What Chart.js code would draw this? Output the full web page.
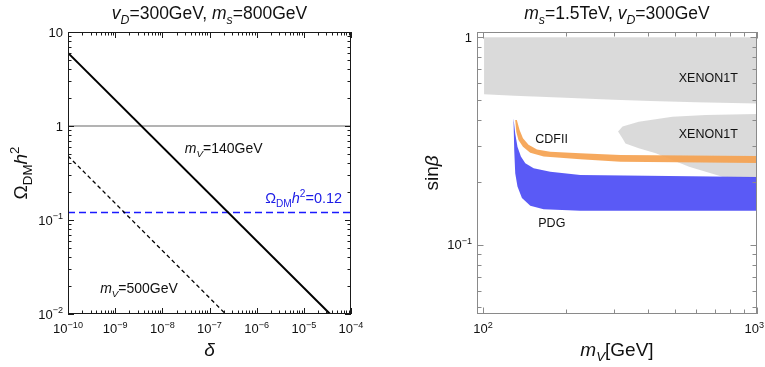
<!DOCTYPE html>
<html>
<head>
<meta charset="utf-8">
<script src="https://cdn.jsdelivr.net/npm/chart.js@4.4.1/dist/chart.umd.min.js"></script>
<style>
  body { margin: 0; background: #fff; }
  canvas { position: absolute; top: 0; }
</style>
</head>
<body>
<canvas id="relic" width="383" height="367" style="left:0"></canvas>
<canvas id="mixing" width="382" height="367" style="left:383px"></canvas>
<script>
// ---- left panel : relic density against delta ----
const deltaMin = 1e-10, deltaMax = 1e-4;
const omegaMin = 1e-2, omegaMax = 10;
const delta140 = [1e-10, 3.6e-5];
const omega140 = [6.0, 0.01];
const delta500 = [1e-10, 2.2e-7];
const omega500 = [0.48, 0.01];
const omegaUnity = 1;
const omegaPlanck = 0.12;
const deltaTickExp = [-10, -9, -8, -7, -6, -5, -4];
const omegaTickExp = [-2, -1, 0, 1];

// ---- right panel : sin(beta) against m_V ----
const mvMin = 95, mvMax = 1000;
const sbMin = 0.0464, sbMax = 1.06;
const mvTickExp = [2, 3];
const sbTickExp = [-1, 0];

// XENON1T, upper region
const mvXenonA = [100.8, 130, 200, 300, 409, 600, 1000];
const sbXenonAHi = [1, 1, 1, 1, 1, 1, 1];
const sbXenonALo = [0.532, 0.522, 0.511, 0.5, 0.493, 0.486, 0.48];
// XENON1T, tongue on the right
const mvXenonBHi = [311, 323, 370, 491, 650, 1000];
const sbXenonBHi = [0.351, 0.371, 0.392, 0.414, 0.422, 0.427];
const mvXenonBLo = [311, 323, 331, 370, 427, 491, 565, 650, 748, 1000];
const sbXenonBLo = [0.351, 0.325, 0.308, 0.292, 0.276, 0.256, 0.238, 0.225, 0.213, 0.209];
// CDF II band
const mvCdfHi = [131, 132.8, 135.9, 139.8, 146.5, 157.3, 175.9, 226.4, 317.5, 1000];
const sbCdfHi = [0.399, 0.399, 0.357, 0.326, 0.303, 0.288, 0.281, 0.276, 0.271, 0.268];
const mvCdfLo = [131, 132.2, 134.6, 139.8, 148.6, 166.4, 226.4, 317.5, 1000];
const sbCdfLo = [0.399, 0.35, 0.32, 0.297, 0.278, 0.266, 0.258, 0.251, 0.248];
// PDG band
const mvPdgHi = [129.1, 131.0, 133.5, 137.4, 142.6, 152.9, 175.9, 226.4, 1000];
const sbPdgHi = [0.407, 0.344, 0.297, 0.266, 0.247, 0.234, 0.225, 0.217, 0.212];
const mvPdgLo = [129.1, 129.9, 131.0, 133.5, 138.6, 148.7, 166.3, 226.4, 1000];
const sbPdgLo = [0.407, 0.286, 0.221, 0.191, 0.168, 0.154, 0.1485, 0.146, 0.146];

const FONT = '"Liberation Sans", Arial, sans-serif';

function fontOf(r, size) {
  const s = (r.sub || r.sup) ? size * 0.7 : size;
  return (r.it ? 'italic ' : '') + s + 'px ' + FONT;
}

function runsWidth(ctx, runs, size) {
  let w = 0;
  for (const r of runs) { ctx.font = fontOf(r, size); w += ctx.measureText(r.t).width; }
  return w;
}

// draws text made of runs (italic / sub / sup), y is the baseline
function drawRich(ctx, runs, x, y, size, align, color, angle) {
  ctx.save();
  ctx.translate(x, y);
  if (angle) ctx.rotate(angle);
  ctx.fillStyle = color;
  ctx.textBaseline = 'alphabetic';
  ctx.textAlign = 'left';
  const w = runsWidth(ctx, runs, size);
  let cx = align === 'center' ? -w / 2 : align === 'right' ? -w : 0;
  for (const r of runs) {
    ctx.font = fontOf(r, size);
    const dy = r.sub ? size * 0.28 : r.sup ? -size * 0.42 : 0;
    ctx.fillText(r.t, cx, dy);
    cx += ctx.measureText(r.t).width;
  }
  ctx.restore();
}

function powLabel(e) {
  if (e === 0) return [{t: '1'}];
  if (e === 1) return [{t: '10'}];
  return [{t: '10'}, {t: (e < 0 ? '\u2212' : '') + Math.abs(e), sup: true}];
}

// frame, inward ticks on all sides, tick labels, titles and notes
const framePlugin = {
  id: 'frame',
  afterDraw(chart, args, o) {
    const {ctx, chartArea: a} = chart;
    const xs = chart.scales.x, ys = chart.scales.y;
    ctx.save();
    ctx.strokeStyle = o.color;
    ctx.lineWidth = 1;
    ctx.strokeRect(a.left + 0.5, a.top + 0.5, a.right - a.left - 1, a.bottom - a.top - 1);
    const axes = [[xs, o.xExp, true], [ys, o.yExp, false]];
    for (const [scale, exps, horiz] of axes) {
      for (let e = exps[0] - 1; e <= exps[exps.length - 1]; e++) {
        for (let m = 1; m <= 9; m++) {
          const v = m * Math.pow(10, e);
          if (v < scale.min * 0.999 || v > scale.max * 1.001) continue;
          const p = Math.round(scale.getPixelForValue(v)) + 0.5;
          const len = m === 1 ? o.major : o.minor;
          ctx.beginPath();
          if (horiz) {
            ctx.moveTo(p, a.bottom); ctx.lineTo(p, a.bottom - len);
            ctx.moveTo(p, a.top); ctx.lineTo(p, a.top + len);
          } else {
            ctx.moveTo(a.left, p); ctx.lineTo(a.left + len, p);
            ctx.moveTo(a.right, p); ctx.lineTo(a.right - len, p);
          }
          ctx.stroke();
        }
      }
      for (const e of exps) {
        const p = scale.getPixelForValue(Math.pow(10, e));
        const runs = powLabel(e);
        if (horiz) {
          // keep the last label inside the canvas
          const half = runsWidth(ctx, runs, o.tickSize) / 2;
          const px = Math.min(p, chart.width - half - 1);
          drawRich(ctx, runs, px, a.bottom + 19, o.tickSize, 'center', '#111');
        } else {
          drawRich(ctx, runs, a.left - 5, p + 4.5, o.tickSize, 'right', '#111');
        }
      }
    }
    const cxm = (a.left + a.right) / 2, cym = (a.top + a.bottom) / 2;
    drawRich(ctx, o.title, cxm, 19, o.titleSize, 'center', '#111');
    drawRich(ctx, o.xTitle, cxm, 356, o.axisSize, 'center', '#111');
    drawRich(ctx, o.yTitle, o.yTitleX, cym, o.axisSize, 'center', '#111', -Math.PI / 2);
    for (const n of o.notes) {
      drawRich(ctx, n.runs, xs.getPixelForValue(n.x), ys.getPixelForValue(n.y), n.size, n.align, n.color || '#111');
    }
    ctx.restore();
  }
};

function lineSet(xv, yv, color, width, dash) {
  return {
    data: xv.map((x, i) => ({x, y: yv[i]})),
    showLine: true, pointRadius: 0, borderColor: color, borderWidth: width,
    borderDash: dash || [], fill: false
  };
}

// closed region : upper edge left to right, then lower edge back
function regionSet(xHi, yHi, xLo, yLo, color) {
  const pts = xHi.map((x, i) => ({x, y: yHi[i]}));
  for (let i = xLo.length - 1; i >= 0; i--) pts.push({x: xLo[i], y: yLo[i]});
  return {
    data: pts, showLine: true, pointRadius: 0, borderWidth: 0,
    borderColor: 'transparent', backgroundColor: color, fill: 'shape'
  };
}

function logScales(xmin, xmax, ymin, ymax) {
  return {
    x: {type: 'logarithmic', min: xmin, max: xmax, display: false},
    y: {type: 'logarithmic', min: ymin, max: ymax, display: false}
  };
}

const common = {
  responsive: false,
  animation: false,
  events: [],
  plugins: {legend: {display: false}, tooltip: {enabled: false}}
};

const mV = [{t: 'm', it: true}, {t: 'V', it: true, sub: true}];
const omegaH2 = [{t: '\u03a9'}, {t: 'DM', sub: true}, {t: 'h', it: true}, {t: '2', sup: true}];

new Chart(document.getElementById('relic'), {
  type: 'scatter',
  data: {
    datasets: [
      lineSet(delta140, omega140, '#000', 2),
      lineSet(delta500, omega500, '#000', 1.3, [4, 3]),
      lineSet([deltaMin, deltaMax], [omegaPlanck, omegaPlanck], '#1a1aff', 1.6, [7, 4]),
      lineSet([deltaMin, deltaMax], [omegaUnity, omegaUnity], '#9a9a9a', 1.3)
    ]
  },
  options: Object.assign({}, common, {
    layout: {padding: {left: 68, top: 32, right: 32, bottom: 53}},
    scales: logScales(deltaMin, deltaMax, omegaMin, omegaMax),
    plugins: Object.assign({}, common.plugins, {
      frame: {
        color: '#1a1a1a', major: 6, minor: 3.5, tickSize: 13,
        xExp: deltaTickExp, yExp: omegaTickExp,
        title: [{t: 'v', it: true}, {t: 'D', it: true, sub: true}, {t: '=300GeV, '},
                {t: 'm', it: true}, {t: 's', it: true, sub: true}, {t: '=800GeV'}],
        titleSize: 17.5,
        xTitle: [{t: '\u03b4', it: true}],
        yTitle: omegaH2,
        yTitleX: 27, axisSize: 19,
        notes: [
          {runs: mV.concat([{t: '=140GeV'}]), x: 3.0e-8, y: 0.52, align: 'left', size: 14},
          {runs: mV.concat([{t: '=500GeV'}]), x: 4.8e-10, y: 0.0167, align: 'left', size: 14},
          {runs: omegaH2.concat([{t: '=0.12'}]), x: 6.5e-5, y: 0.152, align: 'right', size: 14.5, color: '#1a1ae6'}
        ]
      }
    })
  }),
  plugins: [framePlugin]
});

new Chart(document.getElementById('mixing'), {
  type: 'scatter',
  data: {
    datasets: [
      regionSet(mvPdgHi, sbPdgHi, mvPdgLo, sbPdgLo, 'rgba(72,72,245,0.9)'),
      regionSet(mvCdfHi, sbCdfHi, mvCdfLo, sbCdfLo, 'rgba(245,162,80,0.92)'),
      regionSet(mvXenonBHi, sbXenonBHi, mvXenonBLo, sbXenonBLo, 'rgba(205,205,205,0.75)'),
      regionSet(mvXenonA, sbXenonAHi, mvXenonA, sbXenonALo, 'rgba(205,205,205,0.75)')
    ]
  },
  options: Object.assign({}, common, {
    layout: {padding: {left: 94, top: 32, right: 8, bottom: 53}},
    scales: logScales(mvMin, mvMax, sbMin, sbMax),
    plugins: Object.assign({}, common.plugins, {
      frame: {
        color: '#8a8a8a', major: 6.5, minor: 4.5, tickSize: 13,
        xExp: mvTickExp, yExp: sbTickExp,
        title: [{t: 'm', it: true}, {t: 's', it: true, sub: true}, {t: '=1.5TeV, '},
                {t: 'v', it: true}, {t: 'D', it: true, sub: true}, {t: '=300GeV'}],
        titleSize: 17.5,
        xTitle: mV.concat([{t: '[GeV]'}]),
        yTitle: [{t: 'sin'}, {t: '\u03b2', it: true}],
        yTitleX: 438 - 383, axisSize: 19,
        notes: [
          {runs: [{t: 'XENON1T'}], x: 851, y: 0.608, align: 'right', size: 12.5},
          {runs: [{t: 'XENON1T'}], x: 851, y: 0.327, align: 'right', size: 12.5},
          {runs: [{t: 'CDFII'}], x: 155, y: 0.309, align: 'left', size: 12.5},
          {runs: [{t: 'PDG'}], x: 159, y: 0.122, align: 'left', size: 12.5}
        ]
      }
    })
  }),
  plugins: [framePlugin]
});
</script>
</body>
</html>
